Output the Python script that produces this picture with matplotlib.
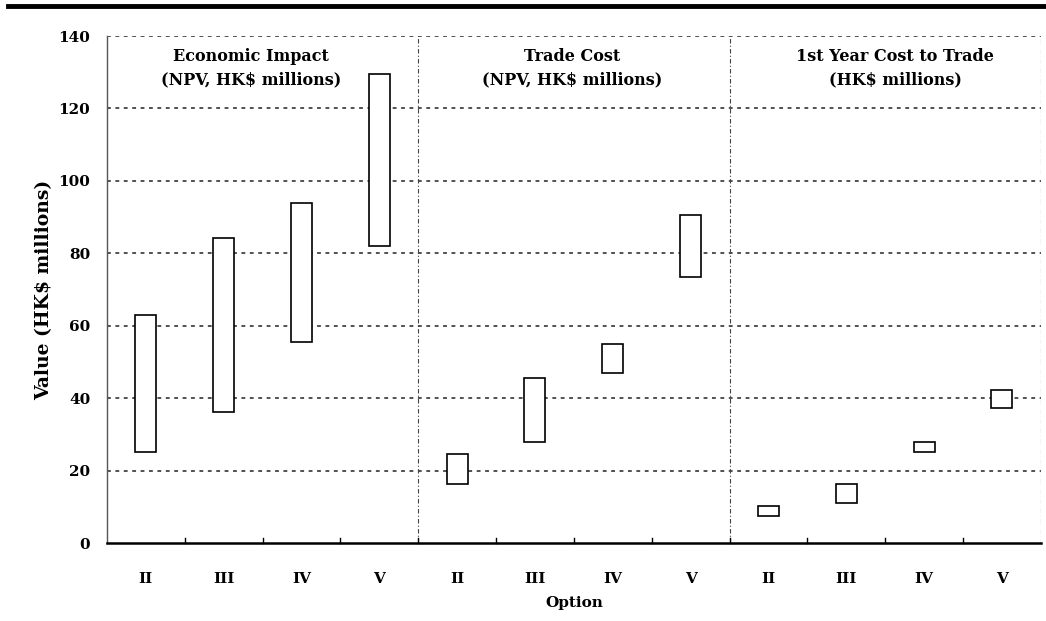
import matplotlib
matplotlib.use("Agg")
import matplotlib.pyplot as plt
from matplotlib.lines import Line2D
import numpy as np

# options repeated in each of the three panels
options = ["II", "III", "IV", "V"]
panel_titles = ["Economic Impact\n(NPV, HK\\$ millions)",
                "Trade Cost\n(NPV, HK\\$ millions)",
                "1st Year Cost to Trade\n(HK\\$ millions)"]

# low / high ends of each range bar (HK$ millions)
econ_low = [25.0, 36.3, 55.5, 82.0]
econ_high = [63.0, 84.3, 94.0, 129.5]
trade_low = [16.4, 27.9, 47.0, 73.5]
trade_high = [24.5, 45.5, 55.0, 90.5]
first_low = [7.5, 11.0, 25.2, 37.2]
first_high = [10.2, 16.2, 28.0, 42.3]

yticks = [0, 20, 40, 60, 80, 100, 120, 140]


def main():
    plt.rcParams['font.family'] = ["DejaVu Serif"]

    fig = plt.figure(figsize=(10.46, 6.21), dpi=100)
    ax = fig.add_axes([0.1023, 0.1256, 0.8927, 0.8164])

    low = np.array(econ_low + trade_low + first_low)
    high = np.array(econ_high + trade_high + first_high)
    x = np.arange(len(low))

    ax.bar(x, high - low, bottom=low, width=0.27, facecolor='white',
           edgecolor='black', linewidth=1.2, zorder=3)

    ax.set_xlim(-0.5, len(low) - 0.5)
    ax.set_ylim(0, 140)

    # horizontal dotted grid
    for v in yticks[1:]:
        ax.axhline(v, color='#222222', lw=1.1, ls=(0, (2.5, 3)), zorder=1)
    # panel separators + right border
    for b in [3.5, 7.5, len(low) - 0.5]:
        ax.axvline(b, color='#444444', lw=0.8, ls=(0, (4, 2, 1, 2)), zorder=1)

    for s in ['top', 'right']:
        ax.spines[s].set_visible(False)
    ax.spines['left'].set_color('#555555')
    ax.spines['left'].set_linewidth(1.0)
    ax.spines['bottom'].set_linewidth(1.8)

    ax.set_yticks(yticks)
    ax.set_yticklabels([str(v) for v in yticks], fontsize=11, fontweight='bold')
    ax.tick_params(axis='y', length=0, pad=12)

    ax.set_xticks(x)
    ax.set_xticklabels(options * 3, fontsize=11, fontweight='bold')
    ax.tick_params(axis='x', length=0, pad=21)
    # little ticks between options
    for b in np.arange(0.5, len(low) - 1, 1.0):
        ax.plot([b, b], [0, 1.3], color='black', lw=1.0, zorder=2, clip_on=False)

    ax.set_xlabel("Option", fontsize=11, fontweight='bold', labelpad=7)
    ax.set_ylabel("Value (HK\\$ millions)", fontsize=13.5, fontweight='bold', labelpad=4)

    centers = [1.35, 5.48, 9.63]
    for c, t in zip(centers, panel_titles):
        ax.text(c, 136.6, t, ha='center', va='top', fontsize=11.5,
                fontweight='bold', linespacing=1.45, zorder=4)

    # thick rule across the top of the page
    fig.add_artist(Line2D([8 / 1046, 1.0], [1 - 6 / 621, 1 - 6 / 621],
                          color='black', lw=3.5, transform=fig.transFigure))

    fig.savefig("out.png", dpi=100)


if __name__ == "__main__":
    main()
